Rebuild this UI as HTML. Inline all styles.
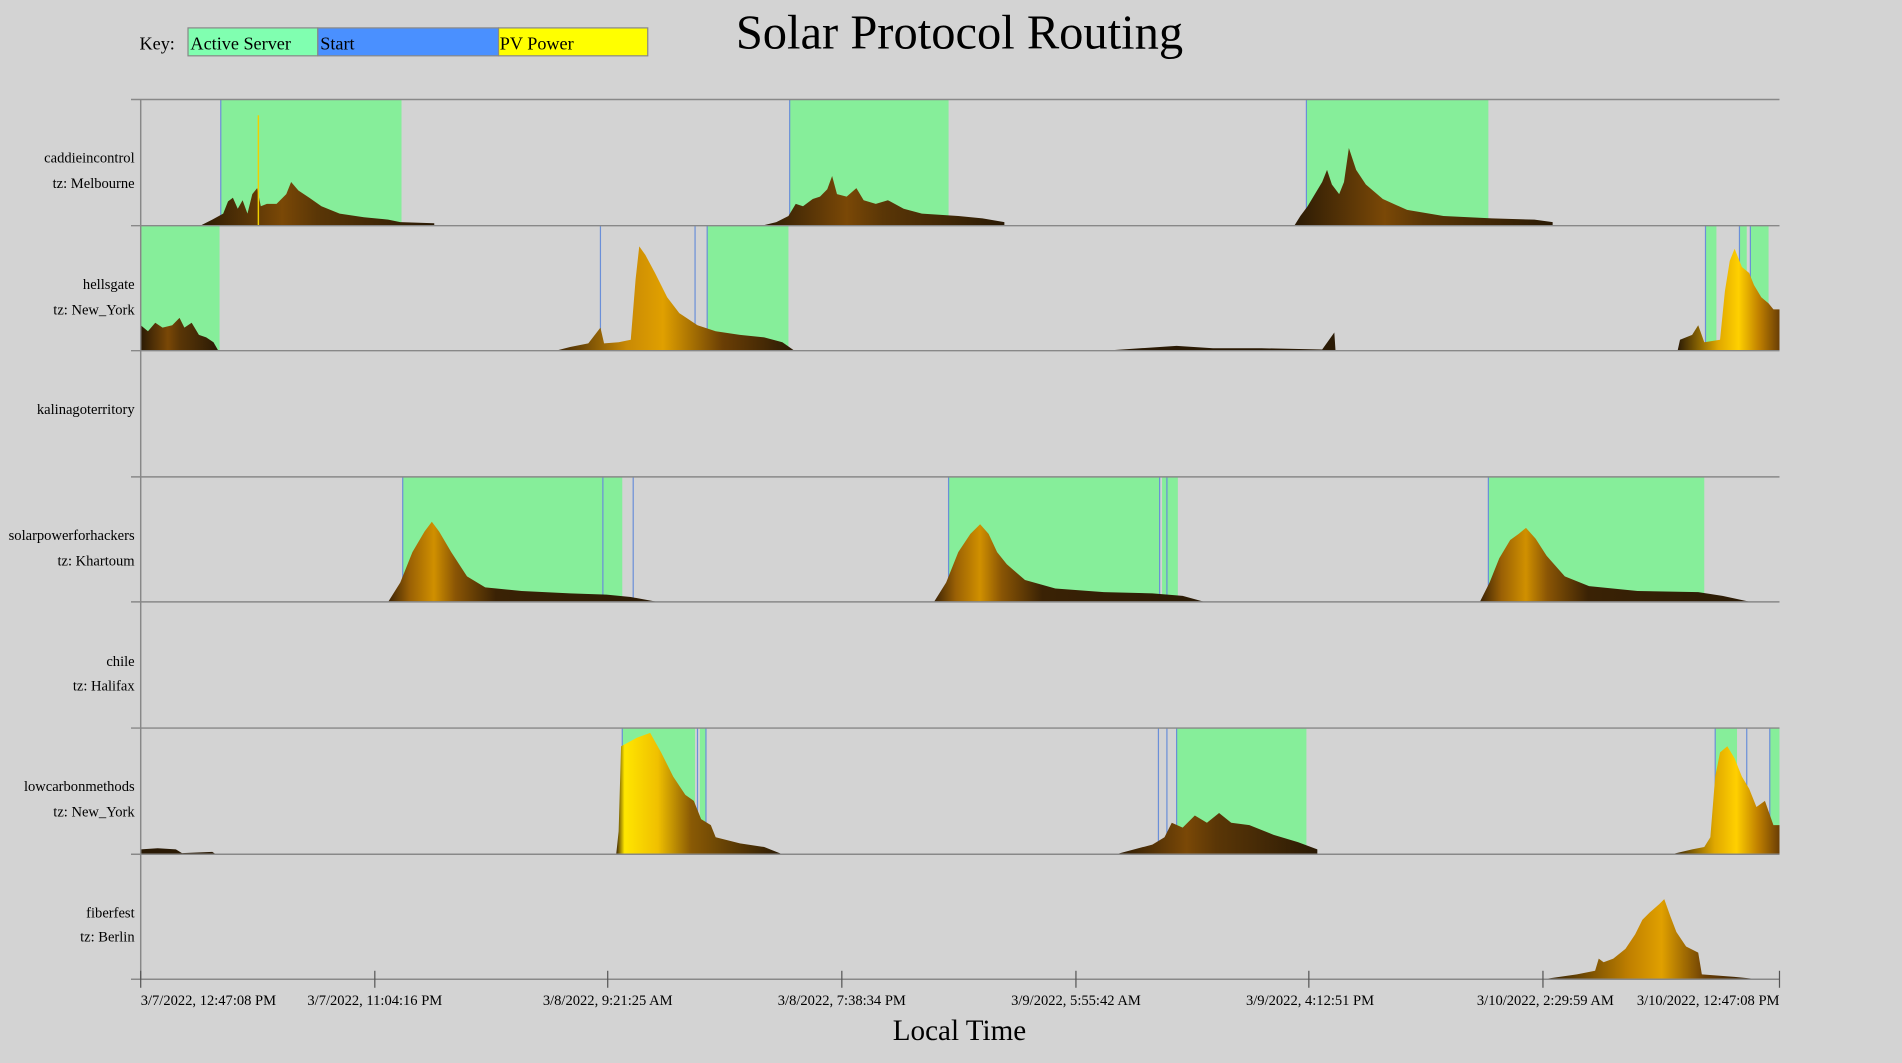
<!DOCTYPE html>
<html><head><meta charset="utf-8"><style>
html,body{margin:0;padding:0;background:#d3d3d3;}
svg{display:block;font-family:"Liberation Serif",serif;}
</style></head><body>
<svg width="1902" height="1063" viewBox="0 0 1568 876" preserveAspectRatio="none" xmlns="http://www.w3.org/2000/svg">
<defs>
<linearGradient id="g1" x1="0" x2="1"><stop offset="0" stop-color="#2a1a05"/><stop offset="0.35" stop-color="#7a4806"/><stop offset="0.5" stop-color="#5a3606"/><stop offset="1" stop-color="#2a1a05"/></linearGradient>
<linearGradient id="g2" x1="0" x2="1"><stop offset="0" stop-color="#3a2205"/><stop offset="0.3" stop-color="#c98a05"/><stop offset="0.45" stop-color="#e0a000"/><stop offset="0.7" stop-color="#6a3e05"/><stop offset="1" stop-color="#2a1a05"/></linearGradient>
<linearGradient id="g3" x1="0" x2="1"><stop offset="0" stop-color="#3a2205"/><stop offset="0.05" stop-color="#ffe600"/><stop offset="0.25" stop-color="#f0c000"/><stop offset="0.45" stop-color="#8a5a05"/><stop offset="1" stop-color="#2a1a05"/></linearGradient>
<linearGradient id="g4" x1="0" x2="1"><stop offset="0" stop-color="#2a1a05"/><stop offset="0.4" stop-color="#c08000"/><stop offset="0.55" stop-color="#e0a000"/><stop offset="0.75" stop-color="#6a3e05"/><stop offset="1" stop-color="#2a1a05"/></linearGradient>
<linearGradient id="g6" x1="0" x2="1"><stop offset="0" stop-color="#3a2205"/><stop offset="0.08" stop-color="#9a6005"/><stop offset="0.17" stop-color="#d09000"/><stop offset="0.25" stop-color="#8a5505"/><stop offset="0.4" stop-color="#3a2205"/><stop offset="1" stop-color="#2a1a05"/></linearGradient>
<linearGradient id="g5" x1="0" x2="1"><stop offset="0" stop-color="#2a1a05"/><stop offset="0.4" stop-color="#e0a800"/><stop offset="0.6" stop-color="#ffd000"/><stop offset="0.8" stop-color="#c08000"/><stop offset="1" stop-color="#6a3e05"/></linearGradient>
</defs>
<rect width="1568" height="876" fill="#d3d3d3"/>
<text x="791" y="40" font-size="40" text-anchor="middle">Solar Protocol Routing</text>
<text x="115" y="41" font-size="15">Key:</text>
<rect x="155" y="23" width="107" height="23" fill="#80ffb0" stroke="#888"/>
<rect x="262" y="23" width="149" height="23" fill="#4a90ff" stroke="#888"/>
<rect x="411" y="23" width="123" height="23" fill="#ffff00" stroke="#888"/>
<text x="157" y="41" font-size="15" font-stretch="condensed">Active Server</text>
<text x="264" y="41" font-size="15">Start</text>
<text x="412" y="41" font-size="15">PV Power</text>

<g fill="#86ee9a">
<rect x="182" y="82" width="149" height="104"/><rect x="651" y="82" width="131" height="104"/><rect x="1077" y="82" width="150" height="104"/>
<rect x="116" y="186" width="65" height="103"/><rect x="583" y="186" width="67" height="103"/><rect x="1406" y="186" width="9" height="103"/><rect x="1434" y="186" width="6" height="103"/><rect x="1443" y="186" width="15" height="103"/>
<rect x="332" y="393" width="181" height="103"/><rect x="782" y="393" width="174" height="103"/><rect x="958" y="393" width="13" height="103"/><rect x="1227" y="393" width="178" height="103"/>
<rect x="513" y="600" width="60" height="104"/><rect x="577" y="600" width="5" height="104"/><rect x="970" y="600" width="107" height="104"/><rect x="1414" y="600" width="18" height="104"/><rect x="1459" y="600" width="8" height="104"/>
</g>
<g stroke="#6a8fd8" stroke-width="1">
<line x1="182" y1="82" x2="182" y2="186"/><line x1="651" y1="82" x2="651" y2="186"/><line x1="1077" y1="82" x2="1077" y2="186"/>
<line x1="495" y1="186" x2="495" y2="289"/><line x1="573" y1="186" x2="573" y2="289"/><line x1="583" y1="186" x2="583" y2="289"/><line x1="1406" y1="186" x2="1406" y2="289"/><line x1="1434" y1="186" x2="1434" y2="289"/><line x1="1443" y1="186" x2="1443" y2="289"/>
<line x1="332" y1="393" x2="332" y2="496"/><line x1="497" y1="393" x2="497" y2="496"/><line x1="522" y1="393" x2="522" y2="496"/><line x1="782" y1="393" x2="782" y2="496"/><line x1="956" y1="393" x2="956" y2="496"/><line x1="962" y1="393" x2="962" y2="496"/><line x1="1227" y1="393" x2="1227" y2="496"/>
<line x1="513" y1="600" x2="513" y2="704"/><line x1="575" y1="600" x2="575" y2="704"/><line x1="582" y1="600" x2="582" y2="704"/><line x1="955" y1="600" x2="955" y2="704"/><line x1="962" y1="600" x2="962" y2="704"/><line x1="970" y1="600" x2="970" y2="704"/><line x1="1414" y1="600" x2="1414" y2="704"/><line x1="1440" y1="600" x2="1440" y2="704"/><line x1="1459" y1="600" x2="1459" y2="704"/>
</g>

<!-- row1 -->
<polygon fill="url(#g1)" points="165,186 175,181 184,176 188,166 192,163 196,172 200,165 204,176 208,160 212,155 215,170 220,168 228,168 236,160 240,150 246,157 255,163 265,170 280,176 300,179 320,181 330,183 358,184 358,186"/>
<line x1="213" y1="95" x2="213" y2="186" stroke="#f0d000" stroke-width="1.2"/>
<polygon fill="url(#g1)" points="628,186 640,183 650,178 656,168 662,170 670,164 676,162 682,156 686,145 690,160 698,162 706,155 712,165 722,168 732,165 745,172 760,176 790,178 810,180 828,183 828,186"/>
<polygon fill="url(#g1)" points="1067,186 1072,178 1078,170 1084,160 1090,150 1094,140 1098,152 1104,160 1108,150 1112,122 1118,140 1126,152 1140,164 1160,173 1190,178 1230,180 1265,181 1280,183 1280,186"/>
<!-- row2 -->
<polygon fill="url(#g1)" points="116,289 116,268 122,273 128,266 134,270 142,268 148,262 152,270 158,266 164,276 170,278 176,282 180,289"/>
<polygon fill="url(#g2)" points="458,289 470,286 485,283 495,270 498,283 510,282 520,280 524,230 527,203 532,210 540,225 550,245 560,258 575,268 590,273 610,276 630,278 645,282 655,289"/>
<polygon fill="#2a1a05" points="910,289 940,287 970,285 1000,287 1040,287 1090,288 1100,274 1101,289"/>
<polygon fill="url(#g5)" points="1383,289 1385,280 1395,276 1400,268 1405,282 1418,280 1422,240 1426,215 1430,205 1436,220 1442,225 1446,235 1452,245 1458,250 1462,255 1467,255 1467,289"/>
<!-- row4 -->
<polygon fill="url(#g6)" points="320,496 330,480 340,455 350,438 356,430 362,438 372,455 385,475 400,484 430,487 470,489 500,490 520,492 542,496"/>
<polygon fill="url(#g6)" points="770,496 780,480 790,455 800,440 808,432 815,440 822,455 830,465 845,478 870,485 910,488 950,489 975,491 993,496"/>
<polygon fill="url(#g6)" points="1220,496 1228,480 1236,460 1245,445 1252,440 1258,435 1266,444 1275,458 1290,475 1310,483 1350,487 1400,488 1420,491 1443,496"/>
<!-- row6 -->
<polygon fill="#2a1a05" points="116,704 116,700 130,699 145,700 150,703 175,702 178,704"/>
<polygon fill="url(#g3)" points="508,704 510,685 512,615 525,608 536,604 545,620 555,640 565,655 572,660 578,675 586,680 590,690 610,695 630,698 645,704"/>
<polygon fill="url(#g1)" points="920,704 935,700 950,696 960,690 966,678 975,682 985,672 995,678 1005,670 1015,678 1030,680 1050,688 1070,694 1086,700 1086,704"/>
<polygon fill="url(#g5)" points="1378,704 1395,700 1405,698 1410,690 1414,640 1418,620 1424,615 1430,625 1436,640 1442,650 1448,665 1455,660 1462,680 1467,680 1467,704"/>
<!-- row7 -->
<polygon fill="url(#g4)" points="1272,807 1300,803 1315,800 1318,790 1322,793 1330,790 1340,782 1348,770 1354,758 1360,752 1368,745 1372,741 1377,755 1382,768 1390,780 1400,785 1403,803 1430,805 1450,807"/>

<g stroke="#888" stroke-width="1.2">
<line x1="108" y1="82" x2="1467" y2="82"/><line x1="108" y1="186" x2="1467" y2="186"/><line x1="108" y1="289" x2="1467" y2="289"/><line x1="108" y1="393" x2="1467" y2="393"/><line x1="108" y1="496" x2="1467" y2="496"/><line x1="108" y1="600" x2="1467" y2="600"/><line x1="108" y1="704" x2="1467" y2="704"/><line x1="108" y1="807" x2="1467" y2="807"/>
<line x1="116" y1="82" x2="116" y2="807"/>
</g>
<g stroke="#555" stroke-width="1">
<line x1="116" y1="800" x2="116" y2="814"/><line x1="309" y1="800" x2="309" y2="814"/><line x1="501" y1="800" x2="501" y2="814"/><line x1="694" y1="800" x2="694" y2="814"/><line x1="887" y1="800" x2="887" y2="814"/><line x1="1079" y1="800" x2="1079" y2="814"/><line x1="1272" y1="800" x2="1272" y2="814"/><line x1="1467" y1="800" x2="1467" y2="814"/>
</g>
<g font-size="12">
<text x="116" y="828">3/7/2022, 12:47:08 PM</text>
<text x="309" y="828" text-anchor="middle">3/7/2022, 11:04:16 PM</text>
<text x="501" y="828" text-anchor="middle">3/8/2022, 9:21:25 AM</text>
<text x="694" y="828" text-anchor="middle">3/8/2022, 7:38:34 PM</text>
<text x="887" y="828" text-anchor="middle">3/9/2022, 5:55:42 AM</text>
<text x="1080" y="828" text-anchor="middle">3/9/2022, 4:12:51 PM</text>
<text x="1274" y="828" text-anchor="middle">3/10/2022, 2:29:59 AM</text>
<text x="1467" y="828" text-anchor="end">3/10/2022, 12:47:08 PM</text>
</g>
<text x="791" y="857" font-size="24" text-anchor="middle">Local Time</text>
<g font-size="12" text-anchor="end">
<text x="111" y="134">caddieincontrol</text><text x="111" y="155">tz: Melbourne</text>
<text x="111" y="238">hellsgate</text><text x="111" y="259">tz: New_York</text>
<text x="111" y="341">kalinagoterritory</text>
<text x="111" y="445">solarpowerforhackers</text><text x="111" y="466">tz: Khartoum</text>
<text x="111" y="549">chile</text><text x="111" y="569">tz: Halifax</text>
<text x="111" y="652">lowcarbonmethods</text><text x="111" y="673">tz: New_York</text>
<text x="111" y="756">fiberfest</text><text x="111" y="776">tz: Berlin</text>
</g>
</svg>
</body></html>
